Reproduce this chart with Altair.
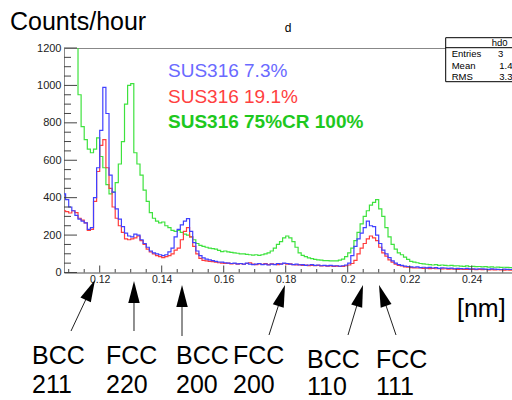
import altair as alt
import pandas as pd
import numpy as np

# ---------------- data ----------------
BIN_START = 0.108
BIN_WIDTH = 0.001

blue_counts = [
    420, 390, 350, 330, 305, 285, 275, 265, 230, 240,
    400, 560, 760, 990, 850, 520, 430, 340, 285, 245,
    210, 195, 190, 205, 200, 175, 155, 135, 115, 105,
    100, 95, 90, 95, 110, 130, 190, 230, 255, 275,
    288, 220, 160, 115, 90, 78, 72, 68, 64, 60,
    56, 55, 52, 50, 48, 50, 46, 48, 45, 50,
    45, 42, 45, 48, 42, 45, 40, 45, 42, 48,
    45, 50, 48, 45, 42, 45, 40, 42, 38, 40,
    42, 38, 40, 36, 38, 35, 38, 35, 36, 34,
    36, 40, 50, 90, 140, 180, 210, 240, 275, 250,
    245, 200, 155, 120, 100, 80, 62, 50, 42, 38,
    34, 32, 30,
    28, 30, 26, 28, 25, 27, 24, 26, 22, 25,
    24, 22, 23, 20, 22, 21, 20, 22, 19, 20,
    18, 20, 19, 18, 17, 19, 18, 17, 16, 18,
    17, 16, 17,
]

red_counts = [
    330, 325, 318, 330, 320, 290, 280, 265, 225, 230,
    380, 540, 680, 710, 560, 450, 350, 290, 250, 215,
    180, 175, 180, 185, 195, 170, 150, 125, 110, 100,
    90, 85, 80, 85, 90, 100, 120, 130, 175, 220,
    240, 190, 140, 100, 75, 65, 62, 60, 58, 55,
    52, 50, 48, 50, 46, 48, 45, 47, 44, 48,
    52, 45, 42, 46, 44, 48, 42, 46, 44, 42,
    46, 48, 44, 46, 42, 40, 42, 38, 40, 37,
    38, 36, 38, 35, 36, 34, 35, 32, 34, 32,
    33, 36, 40, 48, 65, 100, 130, 155, 180, 195,
    185, 170, 135, 105, 88, 68, 55, 45, 38, 35,
    30, 28, 26,
    25, 24, 25, 22, 23, 21, 22, 20, 21, 19,
    20, 18, 19, 18, 17, 18, 16, 17, 16, 17,
    15, 16, 15, 16, 14, 15, 14, 15, 14, 13,
    14, 13, 13,
]

green_counts = [
    1500, 1450, 1400, 1350, 1260, 950, 780, 710, 660, 640,
    660, 720, 620, 560, 470, 420, 430, 480, 580, 700,
    900, 1000, 1010, 640, 580, 520, 440, 380, 320, 290,
    275, 265, 270, 250, 240, 225, 220, 225, 215, 205,
    200, 190, 175, 155, 145, 140, 135, 130, 128, 125,
    118, 112, 115, 110, 108, 105, 103, 100, 100, 97,
    95, 93, 95, 92, 95, 100, 105, 115, 130, 150,
    165, 185, 195, 185, 165, 135, 105, 92, 85, 78,
    74, 70, 68, 66, 64, 64, 62, 62, 62, 66,
    72, 85, 105, 130, 170, 215, 260, 300, 330, 360,
    375, 390, 340, 300, 240, 190, 150, 125, 105, 95,
    82, 70, 60,
    55, 52, 48, 46, 44, 42, 40, 42, 38, 40,
    38, 36, 38, 35, 36, 34, 33, 35, 32, 33,
    31, 32, 30, 31, 29, 30, 28, 29, 27, 28,
    27, 26, 26,
]

series_names = ["SUS316 75%CR 100%", "SUS316 19.1%", "SUS316 7.3%"]
series_line_colors = ["#3ee23e", "#ff3c3c", "#4040ff"]
series_text_colors = ["#1ec81e", "#ff4040", "#6a6aff"]

x_tick_labels = [0.12, 0.14, 0.16, 0.18, 0.2, 0.22, 0.24]
x_minor_ticks = [0.11, 0.115, 0.125, 0.13, 0.135, 0.145, 0.15, 0.155, 0.165, 0.17,
                 0.175, 0.185, 0.19, 0.195, 0.205, 0.21, 0.215, 0.225, 0.23, 0.235,
                 0.245, 0.25]
y_tick_labels = [0, 200, 400, 600, 800, 1000, 1200]
y_minor_ticks = [50, 100, 150, 250, 300, 350, 450, 500, 550, 650, 700, 750,
                 850, 900, 950, 1050, 1100, 1150]

peak_phase = ["BCC", "FCC", "BCC", "FCC", "BCC", "FCC"]
peak_hkl = ["211", "220", "200", "200", "110", "111"]
peak_tip_d = [0.11848, 0.13106, 0.14655, 0.17977, 0.20494, 0.21010]
peak_tail_d = [0.11074, 0.13106, 0.14655, 0.17461, 0.20010, 0.21558]
peak_label_d = [0.09816, 0.12203, 0.14461, 0.16300, 0.18687, 0.20913]

# ---------------- layout ----------------
W, H = 448, 224.5
XMIN, XMAX = 0.10848, 0.253
PAD_L, PAD_T = 64, 48
FONT = "Liberation Sans"

n = len(blue_counts)
assert len(red_counts) == n and len(green_counts) == n
edges = np.round(BIN_START + BIN_WIDTH * np.arange(n + 1), 4)

rows = []
for name, counts in zip(series_names, [green_counts, red_counts, blue_counts]):
    vals = list(counts) + [counts[-1]]
    for d, c in zip(edges, vals):
        rows.append({"d": float(d), "count": c, "series": name})
hist = pd.DataFrame(rows)

xs = alt.Scale(domain=[XMIN, XMAX], nice=False, zero=False)
ys = alt.Scale(domain=[0, 1200], nice=False, zero=True)

x_axis = alt.Axis(values=x_tick_labels, format="~g", ticks=False, tickSize=0,
                  grid=False, domainColor="#888888", labelFont=FONT,
                  labelFontSize=10.5, labelColor="#222222", labelPadding=2,
                  labelFlush=False, title=None)
y_axis = alt.Axis(values=y_tick_labels, format="d", ticks=False, tickSize=0, grid=False,
                  domainColor="#888888", labelFont=FONT, labelFontSize=11,
                  labelColor="#222222", labelPadding=3, title=None)


def X(field):
    return alt.X(field, scale=xs, axis=x_axis, title=None)


def Y(field):
    return alt.Y(field, scale=ys, axis=y_axis, title=None)


layers = []

for name, col in zip(series_names, series_line_colors):
    layers.append(
        alt.Chart(hist[hist.series == name]).mark_line(
            interpolate="step-after", color=col, strokeWidth=1.2, clip=True
        ).encode(x=X("d:Q"), y=Y("count:Q"))
    )


# inward ticks
def xticks(vals, length):
    return alt.Chart(pd.DataFrame({"v": vals})).mark_rule(color="#444444", strokeWidth=1).encode(
        x=X("v:Q"), y=alt.value(H), y2=alt.value(H - length))


def yticks(vals, length):
    return alt.Chart(pd.DataFrame({"v": vals})).mark_rule(color="#444444", strokeWidth=1).encode(
        y=Y("v:Q"), x=alt.value(0), x2=alt.value(length))


layers += [xticks(x_minor_ticks, 3.5), xticks(x_tick_labels, 7),
           yticks(y_minor_ticks, 7), yticks(y_tick_labels, 13)]


# texts
def txt(t, x, y, size, color="black", align="left", weight="normal"):
    return alt.Chart(pd.DataFrame({"t": [t]})).mark_text(
        align=align, baseline="alphabetic", font=FONT, fontSize=size,
        color=color, fontWeight=weight
    ).encode(text="t:N", x=alt.value(x), y=alt.value(y))


layers.append(txt("Counts/hour", -54, -18, 25))
layers.append(txt("d", 224, -16, 12, align="center"))
layers.append(txt("[nm]", 393, 268.5, 25))
legend_y = [28.7, 55.3, 80.3]
for name, col, yy, w in zip(series_names[::-1], series_text_colors[::-1], legend_y,
                            ["normal", "normal", "bold"]):
    layers.append(txt(name, 104, yy, 19, color=col, weight=w))

# stats box
one = pd.DataFrame({"a": [0]})
layers.append(alt.Chart(one).mark_rect(fill="white", stroke="black", strokeWidth=1).encode(
    x=alt.value(381.7), x2=alt.value(470), y=alt.value(-10.3), y2=alt.value(33.7)))
layers.append(alt.Chart(one).mark_rule(color="black", strokeWidth=1).encode(
    x=alt.value(381.7), x2=alt.value(470), y=alt.value(-0.3)))
for t, x, y in [("hd0", 427.7, -2), ("Entries", 387.7, 9.3), ("3", 434, 9.3),
                ("Mean", 387.7, 21), ("1.4", 435.3, 21), ("RMS", 387.7, 32.3),
                ("3.3", 435.3, 32.3)]:
    layers.append(txt(t, x, y, 9.5))

# peak annotations
ppd = W / (XMAX - XMIN)
tip_y = [232, 233, 237, 237, 237, 237]
tail_y = [283, 283, 288, 287, 287, 287]
line1_y = [316, 316, 316, 316, 320, 320]
line2_y = [345, 345, 345, 345, 347, 347]
HEAD_HALF = 11.0
head_d, head_y, angle = [], [], []
for td, ty, sd, sy in zip(peak_tip_d, tip_y, peak_tail_d, tail_y):
    dx = (sd - td) * ppd
    dy = sy - ty
    L = (dx ** 2 + dy ** 2) ** 0.5
    ux, uy = dx / L, dy / L
    head_d.append(td + HEAD_HALF * ux / ppd)
    head_y.append(ty + HEAD_HALF * uy)
    angle.append(float(np.degrees(np.arctan2(-ux, uy)) % 360))

ann = pd.DataFrame({
    "phase": peak_phase, "hkl": peak_hkl, "label_d": peak_label_d,
    "tail_d": peak_tail_d, "tail_y": tail_y, "head_d": head_d, "head_y": head_y,
    "angle": angle, "l1": line1_y, "l2": line2_y,
})

layers.append(alt.Chart(ann).mark_rule(color="#222222", strokeWidth=1).encode(
    x=X("tail_d:Q"), x2="head_d:Q",
    y=alt.Y("tail_y:Q", scale=None, axis=None), y2="head_y:Q"))
layers.append(alt.Chart(ann).mark_point(
    shape="M0,-1L0.52,1L-0.52,1Z", filled=True, size=(2 * HEAD_HALF) ** 2,
    color="black", opacity=1, strokeWidth=0).encode(
    x=X("head_d:Q"),
    y=alt.Y("head_y:Q", scale=None, axis=None),
    angle=alt.Angle("angle:Q", scale=None)))
for tcol, ycol in [("phase", "l1"), ("hkl", "l2")]:
    layers.append(alt.Chart(ann).mark_text(
        align="left", baseline="alphabetic", font=FONT, fontSize=25, color="black").encode(
        x=X("label_d:Q"),
        y=alt.Y(f"{ycol}:Q", scale=None, axis=None),
        text=f"{tcol}:N"))

chart = alt.layer(*layers).properties(
    width=W, height=H,
    autosize=alt.AutoSizeParams(type="none"),
    padding={"left": PAD_L, "top": PAD_T, "right": 0, "bottom": 400 - PAD_T - H},
    background="white",
).configure_view(stroke="#888888", strokeWidth=1)

chart.save("out.html", embed_options={"renderer": "svg", "actions": False})
